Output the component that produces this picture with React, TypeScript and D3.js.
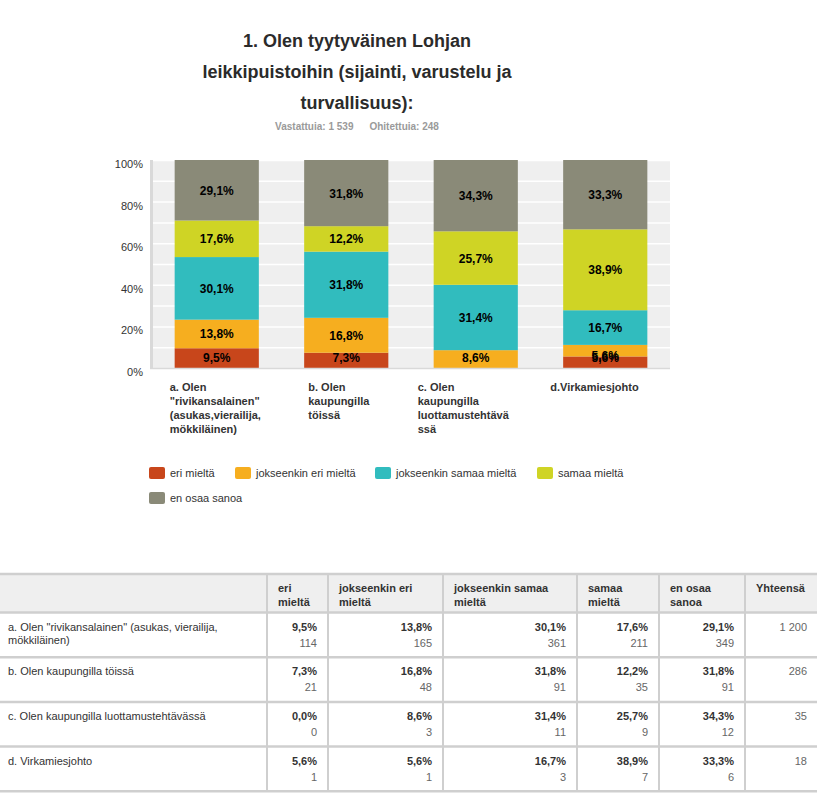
import React from "react";
import * as d3 from "d3";

const titleLines = ["1. Olen tyytyväinen Lohjan", "leikkipuistoihin (sijainti, varustelu ja", "turvallisuus):"];
const answeredLabel = "Vastattuia: 1 539";
const skippedLabel = "Ohitettuia: 248";

const categoryKeys = ["a", "b", "c", "d"];
const axisLabelLines = [
  ["a. Olen", "\"rivikansalainen\"", "(asukas,vierailija,", "mökkiläinen)"],
  ["b. Olen", "kaupungilla", "töissä"],
  ["c. Olen", "kaupungilla", "luottamustehtävä", "ssä"],
  ["d.Virkamiesjohto"],
];
const rowLabelLines = [
  ["a. Olen \"rivikansalainen\" (asukas, vierailija,", "mökkiläinen)"],
  ["b. Olen kaupungilla töissä"],
  ["c. Olen kaupungilla luottamustehtävässä"],
  ["d. Virkamiesjohto"],
];

const seriesNames = ["eri mieltä", "jokseenkin eri mieltä", "jokseenkin samaa mieltä", "samaa mieltä", "en osaa sanoa"];
const headerLines = [["eri", "mieltä"], ["jokseenkin eri", "mieltä"], ["jokseenkin samaa", "mieltä"], ["samaa", "mieltä"], ["en osaa", "sanoa"], ["Yhteensä"]];
const seriesColors = ["#C8461B", "#F6AE1F", "#31BCBE", "#CFD425", "#8A8A78"];

const eriPct = [9.5, 7.3, 0.0, 5.6];
const jokEriPct = [13.8, 16.8, 8.6, 5.6];
const jokSamaaPct = [30.1, 31.8, 31.4, 16.7];
const samaaPct = [17.6, 12.2, 25.7, 38.9];
const enOsaaPct = [29.1, 31.8, 34.3, 33.3];

const eriCount = [114, 21, 0, 1];
const jokEriCount = [165, 48, 3, 1];
const jokSamaaCount = [361, 91, 11, 3];
const samaaCount = [211, 35, 9, 7];
const enOsaaCount = [349, 91, 12, 6];

const totals = [1200, 286, 35, 18];
const yTicks = [0, 20, 40, 60, 80, 100];

const pctSeries = [eriPct, jokEriPct, jokSamaaPct, samaaPct, enOsaaPct];
const countSeries = [eriCount, jokEriCount, jokSamaaCount, samaaCount, enOsaaCount];

// layout
const W = 821, H = 796;
const FONT = "'Liberation Sans', Arial, Helvetica, sans-serif";
const plotL = 153, plotR = 670, plotT = 160, plotB = 368;
const axisLabelDx = [-47, -38, -58, -55];
const legendX = [149, 235, 375, 537, 149];
const legendRowY = [467, 492];
const colEdges = [0, 267, 328, 443, 577, 659, 745, 817];
const tableTop = 574, headerBottom = 612.5, rowH = 44.7;
const labelBoxH = 21;

const fmtPct = (v: number) => d3.format(".1f")(v).replace(".", ",") + "%";
const fmtInt = (v: number) => d3.format(",")(v).replace(/,/g, " ");

export default function App() {
  const x = d3.scaleBand<string>().domain(categoryKeys).range([plotL - 1, plotR]).paddingInner(0.35).paddingOuter(0.175);
  const y = d3.scaleLinear().domain([0, 100]).range([plotB, plotT]);

  const table = categoryKeys.map((k, i) => {
    const o: any = { key: k };
    countSeries.forEach((s, j) => (o["s" + j] = (s[i] / totals[i]) * 100));
    return o;
  });
  const stack = d3.stack<any>().keys(seriesNames.map((_, j) => "s" + j))(table);

  const gridVals = d3.range(10, 101, 10);

  const labelCenter = (d: any) => {
    const top = y(d[1]);
    const bot = y(d[0]);
    if (bot - top >= labelBoxH) return (top + bot) / 2;
    return Math.min(top + labelBoxH / 2, plotB - labelBoxH / 2);
  };

  return (
    <svg width={W} height={H} style={{ position: "absolute", left: 0, top: 0, fontFamily: FONT }}>
      <rect width={W} height={H} fill="#fff" />
      {/* title */}
      <g fill="#2b2b2b" fontWeight="bold" fontSize={18} textAnchor="middle">
        {titleLines.map((t, i) => (
          <text key={i} x={357} y={46.5 + i * 31}>{t}</text>
        ))}
      </g>
      <text x={357} y={129.5} textAnchor="middle" fontSize={10} fontWeight="bold" fill="#9a9a9a">
        <tspan>{answeredLabel}</tspan>
        <tspan dx={16}>{skippedLabel}</tspan>
      </text>

      {/* plot background */}
      <rect x={plotL} y={plotT} width={plotR - plotL} height={plotB - plotT} fill="#efefef" />
      {gridVals.map((v) => (
        <line key={v} x1={plotL} x2={plotR} y1={y(v) + 0.5} y2={y(v) + 0.5} stroke="#fff" strokeWidth={1.5} />
      ))}

      {/* bars */}
      {stack.map((layer, j) => (
        <g key={j} fill={seriesColors[j]}>
          {layer.map((d, i) => (
            <rect key={i} x={x(categoryKeys[i])} width={x.bandwidth()} y={y(d[1])} height={Math.max(0, y(d[0]) - y(d[1]))} />
          ))}
        </g>
      ))}
      {stack.map((layer, j) => (
        <g key={"l" + j} fontSize={12} fontWeight="bold" fill="#000" textAnchor="middle">
          {layer.map((d, i) =>
            pctSeries[j][i] > 0 ? (
              <text key={i} x={(x(categoryKeys[i]) as number) + x.bandwidth() / 2} y={labelCenter(d) + 4.5}>
                {fmtPct(pctSeries[j][i])}
              </text>
            ) : null
          )}
        </g>
      ))}

      {/* axes */}
      <line x1={plotL - 1.5} x2={plotL - 1.5} y1={plotT} y2={plotB + 1} stroke="#d9d9d9" strokeWidth={3} />
      <line x1={plotL - 3} x2={plotR} y1={plotB + 0.5} y2={plotB + 0.5} stroke="#d9d9d9" strokeWidth={1.5} />
      <g fontSize={11} fill="#333" textAnchor="end">
        {yTicks.map((v) => (
          <text key={v} x={143} y={y(v) + 8}>{v + "%"}</text>
        ))}
      </g>
      <g fontSize={11} fontWeight="bold" fill="#333">
        {axisLabelLines.map((lines, i) => (
          <text key={i} x={(x(categoryKeys[i]) as number) + x.bandwidth() / 2 + axisLabelDx[i]} y={391}>
            {lines.map((l, k) => (
              <tspan key={k} x={(x(categoryKeys[i]) as number) + x.bandwidth() / 2 + axisLabelDx[i]} dy={k === 0 ? 0 : 14}>{l}</tspan>
            ))}
          </text>
        ))}
      </g>

      {/* legend */}
      <g fontSize={11} fill="#333">
        {seriesNames.map((n, j) => {
          const ry = legendRowY[j < 4 ? 0 : 1];
          return (
            <g key={n}>
              <rect x={legendX[j]} y={ry} width={16} height={12} rx={2} fill={seriesColors[j]} />
              <text x={legendX[j] + 21} y={ry + 10}>{n}</text>
            </g>
          );
        })}
      </g>

      {/* table */}
      <rect x={colEdges[0]} y={tableTop} width={colEdges[7] - colEdges[0]} height={headerBottom - tableTop} fill="#efefef" />
      {[tableTop, headerBottom, ...categoryKeys.map((_, i) => headerBottom + rowH * (i + 1))].map((yy, i) => (
        <line key={"h" + i} x1={colEdges[0]} x2={colEdges[7]} y1={yy} y2={yy} stroke="#cfcfcf" strokeWidth={2.5} />
      ))}
      {colEdges.slice(1, 7).map((cx, i) => (
        <line key={"v" + i} x1={cx} x2={cx} y1={tableTop} y2={headerBottom + rowH * 4} stroke="#cfcfcf" strokeWidth={2} />
      ))}
      <g fontSize={11} fontWeight="bold" fill="#333">
        {headerLines.map((lines, c) => (
          <text key={c} x={colEdges[c + 1] + 11} y={tableTop + 18}>
            {lines.map((l, k) => (
              <tspan key={k} x={colEdges[c + 1] + 11} dy={k === 0 ? 0 : 13.5}>{l}</tspan>
            ))}
          </text>
        ))}
      </g>
      {categoryKeys.map((k, i) => {
        const top = headerBottom + rowH * i;
        return (
          <g key={k} fontSize={11}>
            <text x={8} y={top + 18} fill="#333">
              {rowLabelLines[i].map((l, m) => (
                <tspan key={m} x={8} dy={m === 0 ? 0 : 13.5}>{l}</tspan>
              ))}
            </text>
            {pctSeries.map((s, j) => (
              <g key={j} textAnchor="end">
                <text x={colEdges[j + 2] - 11} y={top + 18} fontWeight="bold" fill="#333">{fmtPct(s[i])}</text>
                <text x={colEdges[j + 2] - 11} y={top + 34} fill="#666">{fmtInt(countSeries[j][i])}</text>
              </g>
            ))}
            <text x={colEdges[7] - 10} y={top + 18} textAnchor="end" fill="#666">{fmtInt(totals[i])}</text>
          </g>
        );
      })}
    </svg>
  );
}
